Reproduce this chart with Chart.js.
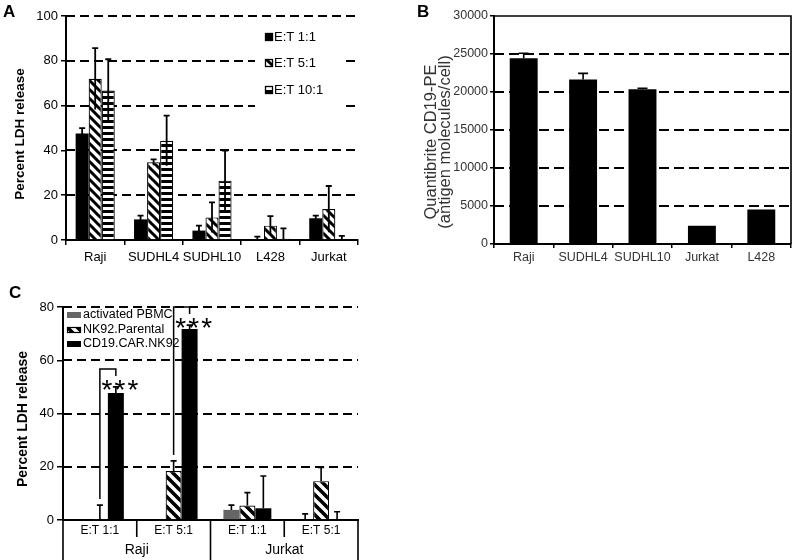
<!DOCTYPE html>
<html><head><meta charset="utf-8">
<script src="https://cdn.jsdelivr.net/npm/chart.js@4.4.1/dist/chart.umd.min.js"></script>
<style>
html,body{margin:0;padding:0;background:#fff}
body{width:800px;height:560px;position:relative;overflow:hidden}
canvas{position:absolute;display:block}
</style></head><body>
<canvas id="cA" width="400" height="270" style="left:0;top:0"></canvas>
<canvas id="cB" width="400" height="270" style="left:400px;top:0"></canvas>
<canvas id="cC" width="400" height="280" style="left:0;top:280px"></canvas>
<script>
// ---------- Panel A data ----------
const catsA = ['Raji', 'SUDHL4', 'SUDHL10', 'L428', 'Jurkat'];
const seriesA = ['E:T 1:1', 'E:T 5:1', 'E:T 10:1'];
const a11 = [47.5, 9.2, 4.2, 0, 9.7];
const a11Err = [2.4, 1.7, 2.2, 1.5, 1.2];
const a51 = [72, 34.7, 10.1, 6.4, 13.8];
const a51Err = [13.7, 1.3, 6.7, 4.3, 10.3];
const a101 = [66.7, 44.3, 26.5, 0.6, 0];
const a101Err = [14, 11.2, 13.4, 4.6, 1.8];
const titleA = 'Percent LDH release';

// ---------- Panel B data ----------
const catsB = ['Raji', 'SUDHL4', 'SUDHL10', 'Jurkat', 'L428'];
const valsB = [24450, 21650, 20350, 2400, 4550];
const errB = [650, 800, 150, null, null];
const titleB = ['Quantibrite CD19-PE', '(antigen molecules/cell)'];

// ---------- Panel C data ----------
const catsC = ['E:T 1:1', 'E:T 5:1', 'E:T 1:1', 'E:T 5:1'];
const groupsC = ['Raji', 'Jurkat'];
const seriesC = ['activated PBMC', 'NK92.Parental', 'CD19.CAR.NK92'];
const cPBMC = [0, 0, 3.8, 0];
const cPBMCErr = [null, null, 1.8, 2.3];
const cPar = [0.4, 18.4, 5.4, 14.6];
const cParErr = [5.2, 3.8, 4.9, 5.1];
const cCAR = [47.7, 71.7, 4.4, 0];
const cCARErr = [2.3, 1.5, 12.1, 3.1];
const sigC = [{cat: 0, from: 1, to: 2, label: '***'}, {cat: 1, from: 1, to: 2, label: '***'}];
const titleC = 'Percent LDH release';

const FONT = '"Liberation Sans", Arial, sans-serif';
Chart.defaults.font.family = FONT;
Chart.defaults.color = '#000';

function diagPattern(size, thick) {
  const c = document.createElement('canvas'); c.width = size; c.height = size;
  const g = c.getContext('2d');
  g.fillStyle = '#fff'; g.fillRect(0, 0, size, size);
  g.strokeStyle = '#000'; g.lineWidth = thick;
  g.beginPath();
  for (let k = -2; k <= 2; k++) { g.moveTo(-size, -size + k * size); g.lineTo(2 * size, 2 * size + k * size); }
  g.stroke();
  return document.createElement('canvas').getContext('2d').createPattern(c, 'repeat');
}
function horizPattern(period, thick) {
  const c = document.createElement('canvas'); c.width = 4; c.height = period;
  const g = c.getContext('2d');
  g.fillStyle = '#fff'; g.fillRect(0, 0, 4, period);
  g.fillStyle = '#000'; g.fillRect(0, 0, 4, thick);
  return document.createElement('canvas').getContext('2d').createPattern(c, 'repeat');
}
const patA5 = diagPattern(9, 3);
const patA10 = horizPattern(6, 3);
const patC = diagPattern(10, 3.6);

const bw = (ctx) => (ctx.raw > 0 ? 1.2 : 0);

const errorBars = {
  id: 'errorBars',
  afterDatasetsDraw(chart, args, o) {
    const ctx = chart.ctx, y = chart.scales.y;
    chart.data.datasets.forEach((ds, di) => {
      if (!ds.errors) return;
      const meta = chart.getDatasetMeta(di);
      meta.data.forEach((bar, i) => {
        const e = ds.errors[i]; if (e == null) return;
        const v = ds.data[i];
        const yt = y.getPixelForValue(v + e);
        const yb = o.symmetric ? y.getPixelForValue(Math.max(v - e, 0)) : y.getPixelForValue(v);
        ctx.save(); ctx.strokeStyle = '#000'; ctx.lineWidth = o.width;
        ctx.beginPath();
        ctx.moveTo(bar.x, yb); ctx.lineTo(bar.x, yt);
        ctx.moveTo(bar.x - o.cap, yt); ctx.lineTo(bar.x + o.cap, yt);
        ctx.stroke(); ctx.restore();
      });
    });
  }
};
const dashGrid = {
  id: 'dashGrid',
  beforeDatasetsDraw(chart, args, o) {
    const {ctx, chartArea: {left, right}, scales: {y}} = chart;
    ctx.save(); ctx.strokeStyle = '#000'; ctx.lineWidth = o.width; ctx.setLineDash(o.dash);
    y.ticks.forEach(t => {
      if (t.value <= y.min) return;
      if (o.skipTop && t.value >= y.max) return;
      const py = Math.round(y.getPixelForValue(t.value));
      ctx.beginPath(); ctx.moveTo(left, py); ctx.lineTo(right, py); ctx.stroke();
    });
    ctx.restore();
  }
};
function vText(ctx, text, x, y, font, color) {
  ctx.save(); ctx.translate(x, y); ctx.rotate(-Math.PI / 2);
  ctx.font = font; ctx.fillStyle = color; ctx.textAlign = 'center'; ctx.textBaseline = 'middle';
  ctx.fillText(text, 0, 0); ctx.restore();
}

// ---------- Panel A ----------
const decoA = {
  id: 'decoA',
  beforeDatasetsDraw(chart) {
    const ctx = chart.ctx;
    ctx.save(); ctx.fillStyle = '#fff'; ctx.fillRect(255, 25, 86, 86); ctx.restore();
  },
  afterDraw(chart) {
    const ctx = chart.ctx;
    ctx.save();
    ctx.font = 'bold 17px ' + FONT; ctx.fillStyle = '#000'; ctx.textBaseline = 'alphabetic';
    ctx.fillText('A', 3, 17);
    const fills = ['#000', patA5, patA10];
    const ys = [37, 63, 90];
    ctx.font = '13px ' + FONT; ctx.textBaseline = 'middle';
    seriesA.forEach((s, i) => {
      ctx.fillStyle = fills[i]; ctx.fillRect(265, ys[i] - 4, 8, 8);
      ctx.strokeStyle = '#000'; ctx.lineWidth = 1.3; ctx.strokeRect(265.5, ys[i] - 3.5, 7, 7);
      ctx.fillStyle = '#000'; ctx.fillText(s, 274, ys[i] + 0.5);
    });
    ctx.restore();
    vText(ctx, titleA, 20, 134, 'bold 13.5px ' + FONT, '#000');
  }
};
new Chart(document.getElementById('cA'), {
  type: 'bar',
  data: {
    labels: catsA,
    datasets: [
      {label: seriesA[0], data: a11, errors: a11Err, backgroundColor: '#000', borderWidth: 0},
      {label: seriesA[1], data: a51, errors: a51Err, backgroundColor: patA5, borderColor: '#000', borderWidth: bw},
      {label: seriesA[2], data: a101, errors: a101Err, backgroundColor: patA10, borderColor: '#000', borderWidth: bw}
    ]
  },
  options: {
    responsive: false, animation: false,
    layout: {padding: {left: 0, right: 42, top: 16, bottom: 0}},
    datasets: {bar: {categoryPercentage: 0.67, barPercentage: 1}},
    plugins: {legend: {display: false}, tooltip: {enabled: false},
      errorBars: {cap: 3, width: 1.8, symmetric: true},
      dashGrid: {dash: [9, 5], width: 2, skipTop: false}},
    scales: {
      x: {grid: {display: true, drawOnChartArea: false, drawTicks: true, tickLength: 5, color: '#000', lineWidth: 1.5, offset: true},
          border: {display: true, color: '#000', width: 2},
          ticks: {font: {size: 13}, color: '#000', padding: 5, maxRotation: 0, autoSkip: false},
          afterFit(s) { s.height = 30; }},
      y: {min: 0, max: 100,
          ticks: {stepSize: 20, font: {size: 13}, color: '#000', padding: 3},
          grid: {display: true, drawOnChartArea: false, drawTicks: true, tickLength: 5, color: '#000', lineWidth: 1.5},
          border: {display: true, color: '#000', width: 2},
          afterFit(s) { s.width = 66; }}
    }
  },
  plugins: [dashGrid, errorBars, decoA]
});

// ---------- Panel B ----------
const decoB = {
  id: 'decoB',
  afterDraw(chart) {
    const {ctx, chartArea: {left, right, top, bottom}} = chart;
    ctx.save();
    ctx.strokeStyle = '#000'; ctx.lineWidth = 1.6;
    ctx.beginPath(); ctx.moveTo(left, top); ctx.lineTo(right, top); ctx.lineTo(right, bottom); ctx.stroke();
    ctx.font = 'bold 17px ' + FONT; ctx.fillStyle = '#000'; ctx.textBaseline = 'alphabetic';
    ctx.fillText('B', 17, 17);
    ctx.restore();
    vText(ctx, titleB[0], 31, 142, '16.5px ' + FONT, '#333');
    vText(ctx, titleB[1], 45, 142, '16.5px ' + FONT, '#333');
  }
};
new Chart(document.getElementById('cB'), {
  type: 'bar',
  data: {labels: catsB, datasets: [{label: 'CD19', data: valsB, errors: errB, backgroundColor: '#000', borderWidth: 0}]},
  options: {
    responsive: false, animation: false,
    layout: {padding: {left: 0, right: 9, top: 16, bottom: 0}},
    datasets: {bar: {categoryPercentage: 1, barPercentage: 0.47}},
    plugins: {legend: {display: false}, tooltip: {enabled: false},
      errorBars: {cap: 5, width: 1.6, symmetric: false},
      dashGrid: {dash: [10, 5], width: 2, skipTop: true}},
    scales: {
      x: {grid: {display: true, drawOnChartArea: false, drawTicks: true, tickLength: 4, color: '#000', lineWidth: 1.5, offset: true},
          border: {display: true, color: '#000', width: 2},
          ticks: {font: {size: 12.5}, color: '#333', padding: 2, maxRotation: 0, autoSkip: false},
          afterFit(s) { s.height = 26; }},
      y: {min: 0, max: 30000,
          ticks: {stepSize: 5000, font: {size: 12.5}, color: '#333', padding: 2, callback: (v) => String(v)},
          grid: {display: true, drawOnChartArea: false, drawTicks: true, tickLength: 4, color: '#000', lineWidth: 1.5},
          border: {display: true, color: '#000', width: 2},
          afterFit(s) { s.width = 94; }}
    }
  },
  plugins: [dashGrid, errorBars, decoB]
});

// ---------- Panel C ----------
const decoC = {
  id: 'decoC',
  afterDraw(chart) {
    const {ctx, chartArea: {left, right, top, bottom}, scales: {y}} = chart;
    const H = chart.height;
    const w = (right - left) / catsC.length;
    ctx.save();
    ctx.strokeStyle = '#000'; ctx.lineWidth = 1.6;
    ctx.beginPath();
    ctx.moveTo(left, bottom); ctx.lineTo(left, H);
    for (let i = 1; i <= catsC.length; i++) {
      const x = left + i * w;
      ctx.moveTo(x, bottom); ctx.lineTo(x, i % 2 === 0 ? H : bottom + 17);
    }
    ctx.stroke();
    ctx.font = '14px ' + FONT; ctx.fillStyle = '#000'; ctx.textAlign = 'center'; ctx.textBaseline = 'middle';
    groupsC.forEach((g, gi) => ctx.fillText(g, left + (2 * gi + 1) * w, bottom + 30));
    // significance brackets
    sigC.forEach(s => {
      const bl = chart.getDatasetMeta(s.from).data[s.cat];
      const br = chart.getDatasetMeta(s.to).data[s.cat];
      const dl = chart.data.datasets[s.from], dr = chart.data.datasets[s.to];
      const errL = y.getPixelForValue(dl.data[s.cat] + (dl.errors[s.cat] || 0));
      const errR = y.getPixelForValue(dr.data[s.cat] + (dr.errors[s.cat] || 0));
      const yTop = errR - 18;
      ctx.lineWidth = 1.5;
      ctx.beginPath();
      ctx.moveTo(bl.x, errL - 6); ctx.lineTo(bl.x, yTop); ctx.lineTo(br.x, yTop); ctx.lineTo(br.x, yTop + 7);
      ctx.stroke();
      ctx.font = '28px ' + FONT; ctx.textBaseline = 'alphabetic'; ctx.textAlign = 'center';
      const cx = br.x + 4;
      [-13, 0, 13].forEach(dx => ctx.fillText('*', cx + dx, errR + 12));
    });
    // legend
    const fills = ['#666', patC, '#000'];
    const ys = [35, 50, 64];
    ctx.font = '12.5px ' + FONT; ctx.textAlign = 'left'; ctx.textBaseline = 'middle';
    seriesC.forEach((s, i) => {
      ctx.fillStyle = fills[i]; ctx.fillRect(67, ys[i] - 3, 14, 6);
      if (i === 1) { ctx.strokeStyle = '#000'; ctx.lineWidth = 1.2; ctx.strokeRect(67.5, ys[i] - 2.5, 13, 5); }
      ctx.fillStyle = '#000'; ctx.fillText(s, 83, ys[i]);
    });
    ctx.font = 'bold 17px ' + FONT; ctx.textBaseline = 'alphabetic';
    ctx.fillText('C', 9, 18);
    ctx.restore();
    vText(ctx, titleC, 23, 139, 'bold 14px ' + FONT, '#000');
  }
};
new Chart(document.getElementById('cC'), {
  type: 'bar',
  data: {
    labels: catsC,
    datasets: [
      {label: seriesC[0], data: cPBMC, errors: cPBMCErr, backgroundColor: '#666', borderWidth: 0},
      {label: seriesC[1], data: cPar, errors: cParErr, backgroundColor: patC, borderColor: '#000', borderWidth: bw},
      {label: seriesC[2], data: cCAR, errors: cCARErr, backgroundColor: '#000', borderWidth: 0}
    ]
  },
  options: {
    responsive: false, animation: false,
    layout: {padding: {left: 0, right: 42, top: 27, bottom: 0}},
    datasets: {bar: {categoryPercentage: 0.65, barPercentage: 1}},
    plugins: {legend: {display: false}, tooltip: {enabled: false},
      errorBars: {cap: 3, width: 1.6, symmetric: false},
      dashGrid: {dash: [9, 5], width: 2, skipTop: false}},
    scales: {
      x: {grid: {display: false, drawTicks: false},
          border: {display: true, color: '#000', width: 2},
          ticks: {font: {size: 12}, color: '#000', padding: 3, maxRotation: 0, autoSkip: false},
          afterFit(s) { s.height = 40; }},
      y: {min: 0, max: 80,
          ticks: {stepSize: 20, font: {size: 13}, color: '#000', padding: 3},
          grid: {display: true, drawOnChartArea: false, drawTicks: true, tickLength: 6, color: '#000', lineWidth: 1.5},
          border: {display: true, color: '#000', width: 2},
          afterFit(s) { s.width = 63; }}
    }
  },
  plugins: [dashGrid, errorBars, decoC]
});
</script>
</body></html>
